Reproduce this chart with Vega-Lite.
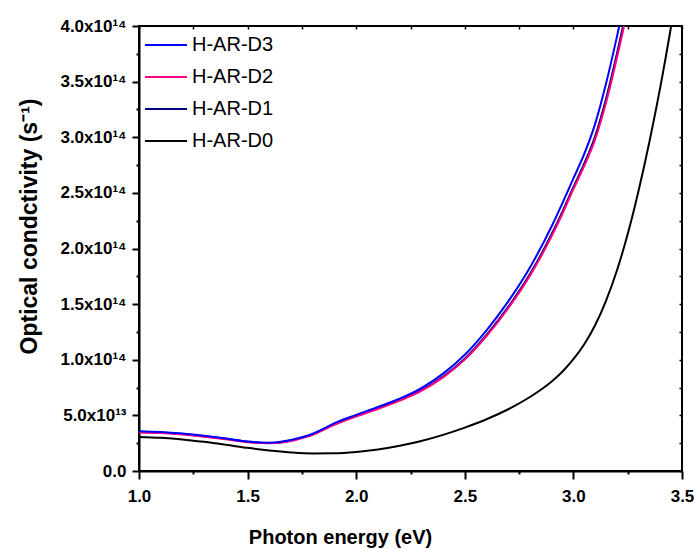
{
  "$schema": "https://vega.github.io/schema/vega-lite/v6.json",
  "autosize": "none",
  "width": 543,
  "height": 445,
  "padding": {"left": 139, "top": 26, "right": 12, "bottom": 78},
  "background": "white",
  "config": {"view": {"stroke": "black", "strokeWidth": 2}, "font": "Liberation Sans"},
  "datasets": {
    "curves": [
      {"s": "H-AR-D0", "E": 1.0, "v": 0.306}, {"s": "H-AR-D0", "E": 1.1, "v": 0.298}, {"s": "H-AR-D0", "E": 1.2, "v": 0.284}, {"s": "H-AR-D0", "E": 1.3, "v": 0.262}, {"s": "H-AR-D0", "E": 1.4, "v": 0.236}, {"s": "H-AR-D0", "E": 1.5, "v": 0.208}, {"s": "H-AR-D0", "E": 1.6, "v": 0.184}, {"s": "H-AR-D0", "E": 1.7, "v": 0.167}, {"s": "H-AR-D0", "E": 1.8, "v": 0.158}, {"s": "H-AR-D0", "E": 1.9, "v": 0.159}, {"s": "H-AR-D0", "E": 2.0, "v": 0.171}, {"s": "H-AR-D0", "E": 2.1, "v": 0.193}, {"s": "H-AR-D0", "E": 2.2, "v": 0.227}, {"s": "H-AR-D0", "E": 2.3, "v": 0.27}, {"s": "H-AR-D0", "E": 2.4, "v": 0.325}, {"s": "H-AR-D0", "E": 2.5, "v": 0.39}, {"s": "H-AR-D0", "E": 2.6, "v": 0.465}, {"s": "H-AR-D0", "E": 2.7, "v": 0.555}, {"s": "H-AR-D0", "E": 2.8, "v": 0.665}, {"s": "H-AR-D0", "E": 2.85, "v": 0.73}, {"s": "H-AR-D0", "E": 2.9, "v": 0.805}, {"s": "H-AR-D0", "E": 2.95, "v": 0.895}, {"s": "H-AR-D0", "E": 3.0, "v": 1.005}, {"s": "H-AR-D0", "E": 3.05, "v": 1.14}, {"s": "H-AR-D0", "E": 3.1, "v": 1.31}, {"s": "H-AR-D0", "E": 3.15, "v": 1.53}, {"s": "H-AR-D0", "E": 3.2, "v": 1.8}, {"s": "H-AR-D0", "E": 3.25, "v": 2.13}, {"s": "H-AR-D0", "E": 3.3, "v": 2.52}, {"s": "H-AR-D0", "E": 3.35, "v": 2.96}, {"s": "H-AR-D0", "E": 3.4, "v": 3.45}, {"s": "H-AR-D0", "E": 3.45, "v": 4.0}, {"s": "H-AR-D0", "E": 3.5, "v": 4.6},
      {"s": "H-AR-D1", "E": 1.0, "v": 0.352}, {"s": "H-AR-D1", "E": 1.1, "v": 0.346}, {"s": "H-AR-D1", "E": 1.2, "v": 0.332}, {"s": "H-AR-D1", "E": 1.3, "v": 0.312}, {"s": "H-AR-D1", "E": 1.4, "v": 0.289}, {"s": "H-AR-D1", "E": 1.5, "v": 0.262}, {"s": "H-AR-D1", "E": 1.6, "v": 0.252}, {"s": "H-AR-D1", "E": 1.7, "v": 0.275}, {"s": "H-AR-D1", "E": 1.75, "v": 0.3}, {"s": "H-AR-D1", "E": 1.8, "v": 0.331}, {"s": "H-AR-D1", "E": 1.85, "v": 0.376}, {"s": "H-AR-D1", "E": 1.9, "v": 0.424}, {"s": "H-AR-D1", "E": 2.0, "v": 0.5}, {"s": "H-AR-D1", "E": 2.1, "v": 0.567}, {"s": "H-AR-D1", "E": 2.2, "v": 0.64}, {"s": "H-AR-D1", "E": 2.3, "v": 0.726}, {"s": "H-AR-D1", "E": 2.4, "v": 0.849}, {"s": "H-AR-D1", "E": 2.5, "v": 1.01}, {"s": "H-AR-D1", "E": 2.6, "v": 1.223}, {"s": "H-AR-D1", "E": 2.7, "v": 1.475}, {"s": "H-AR-D1", "E": 2.8, "v": 1.77}, {"s": "H-AR-D1", "E": 2.9, "v": 2.13}, {"s": "H-AR-D1", "E": 2.95, "v": 2.334}, {"s": "H-AR-D1", "E": 3.0, "v": 2.552}, {"s": "H-AR-D1", "E": 3.05, "v": 2.764}, {"s": "H-AR-D1", "E": 3.1, "v": 3.009}, {"s": "H-AR-D1", "E": 3.15, "v": 3.344}, {"s": "H-AR-D1", "E": 3.2, "v": 3.748}, {"s": "H-AR-D1", "E": 3.25, "v": 4.19},
      {"s": "H-AR-D2", "E": 1.0, "v": 0.347}, {"s": "H-AR-D2", "E": 1.1, "v": 0.341}, {"s": "H-AR-D2", "E": 1.2, "v": 0.327}, {"s": "H-AR-D2", "E": 1.3, "v": 0.308}, {"s": "H-AR-D2", "E": 1.4, "v": 0.285}, {"s": "H-AR-D2", "E": 1.5, "v": 0.258}, {"s": "H-AR-D2", "E": 1.6, "v": 0.249}, {"s": "H-AR-D2", "E": 1.7, "v": 0.27}, {"s": "H-AR-D2", "E": 1.75, "v": 0.296}, {"s": "H-AR-D2", "E": 1.8, "v": 0.325}, {"s": "H-AR-D2", "E": 1.85, "v": 0.37}, {"s": "H-AR-D2", "E": 1.9, "v": 0.415}, {"s": "H-AR-D2", "E": 2.0, "v": 0.49}, {"s": "H-AR-D2", "E": 2.1, "v": 0.557}, {"s": "H-AR-D2", "E": 2.2, "v": 0.632}, {"s": "H-AR-D2", "E": 2.3, "v": 0.721}, {"s": "H-AR-D2", "E": 2.4, "v": 0.842}, {"s": "H-AR-D2", "E": 2.5, "v": 1.001}, {"s": "H-AR-D2", "E": 2.6, "v": 1.212}, {"s": "H-AR-D2", "E": 2.7, "v": 1.463}, {"s": "H-AR-D2", "E": 2.8, "v": 1.755}, {"s": "H-AR-D2", "E": 2.9, "v": 2.112}, {"s": "H-AR-D2", "E": 2.95, "v": 2.315}, {"s": "H-AR-D2", "E": 3.0, "v": 2.533}, {"s": "H-AR-D2", "E": 3.05, "v": 2.742}, {"s": "H-AR-D2", "E": 3.1, "v": 2.981}, {"s": "H-AR-D2", "E": 3.15, "v": 3.31}, {"s": "H-AR-D2", "E": 3.2, "v": 3.71}, {"s": "H-AR-D2", "E": 3.25, "v": 4.15},
      {"s": "H-AR-D3", "E": 1.0, "v": 0.357}, {"s": "H-AR-D3", "E": 1.1, "v": 0.35}, {"s": "H-AR-D3", "E": 1.2, "v": 0.336}, {"s": "H-AR-D3", "E": 1.3, "v": 0.316}, {"s": "H-AR-D3", "E": 1.4, "v": 0.292}, {"s": "H-AR-D3", "E": 1.5, "v": 0.265}, {"s": "H-AR-D3", "E": 1.6, "v": 0.255}, {"s": "H-AR-D3", "E": 1.7, "v": 0.278}, {"s": "H-AR-D3", "E": 1.75, "v": 0.303}, {"s": "H-AR-D3", "E": 1.8, "v": 0.335}, {"s": "H-AR-D3", "E": 1.85, "v": 0.38}, {"s": "H-AR-D3", "E": 1.9, "v": 0.43}, {"s": "H-AR-D3", "E": 2.0, "v": 0.505}, {"s": "H-AR-D3", "E": 2.1, "v": 0.575}, {"s": "H-AR-D3", "E": 2.2, "v": 0.65}, {"s": "H-AR-D3", "E": 2.3, "v": 0.745}, {"s": "H-AR-D3", "E": 2.4, "v": 0.875}, {"s": "H-AR-D3", "E": 2.5, "v": 1.045}, {"s": "H-AR-D3", "E": 2.6, "v": 1.265}, {"s": "H-AR-D3", "E": 2.7, "v": 1.525}, {"s": "H-AR-D3", "E": 2.8, "v": 1.83}, {"s": "H-AR-D3", "E": 2.9, "v": 2.2}, {"s": "H-AR-D3", "E": 2.95, "v": 2.41}, {"s": "H-AR-D3", "E": 3.0, "v": 2.63}, {"s": "H-AR-D3", "E": 3.05, "v": 2.85}, {"s": "H-AR-D3", "E": 3.1, "v": 3.12}, {"s": "H-AR-D3", "E": 3.15, "v": 3.48}, {"s": "H-AR-D3", "E": 3.2, "v": 3.9}, {"s": "H-AR-D3", "E": 3.25, "v": 4.35}
    ]
  },
  "data": {"name": "curves"},
  "layer": [
    {
      "mark": {"type": "line", "strokeWidth": 2, "clip": true, "interpolate": "monotone"},
      "encoding": {
        "x": {
          "field": "E", "type": "quantitative",
          "scale": {"domain": [1, 3.5], "nice": false, "zero": false},
          "axis": {
            "orient": "bottom",
            "values": [1, 1.25, 1.5, 1.75, 2, 2.25, 2.5, 2.75, 3, 3.25, 3.5],
            "labelExpr": "round(datum.value*4)%2!=0 ? '' : format(datum.value,'.1f')",
            "labelFontSize": 17, "labelFontWeight": "bold", "labelColor": "black",
            "labelPadding": 9, "labelOverlap": false, "labelFlush": false,
            "tickColor": "black", "tickWidth": 2,
            "tickSize": {"condition": {"test": "round(datum.value*4)%2==0", "value": 8}, "value": 3},
            "domainColor": "black", "domainWidth": 2, "grid": false,
            "title": "Photon energy (eV)", "titleFontSize": 20, "titleFontWeight": "bold", "titleColor": "black",
            "titleX": 201, "titleY": 66, "titleBaseline": "middle", "titleAlign": "center"
          }
        },
        "y": {
          "field": "v", "type": "quantitative",
          "scale": {"domain": [0, 4], "nice": false},
          "axis": {
            "orient": "left",
            "values": [0, 0.25, 0.5, 0.75, 1, 1.25, 1.5, 1.75, 2, 2.25, 2.5, 2.75, 3, 3.25, 3.5, 3.75, 4],
            "labelExpr": "round(datum.value*4)%2!=0 ? '' : datum.value==0 ? '0.0' : datum.value<1 ? format(datum.value*10,'.1f')+'x10¹³' : format(datum.value,'.1f')+'x10¹⁴'",
            "labelFontSize": 17, "labelFontWeight": "bold", "labelColor": "black",
            "labelPadding": 6, "labelOverlap": false, "labelFlush": false,
            "tickColor": "black", "tickWidth": 2,
            "tickSize": {"condition": {"test": "round(datum.value*4)%2==0", "value": 7}, "value": 3},
            "domainColor": "black", "domainWidth": 2, "grid": false,
            "title": "Optical condctivity (s⁻¹)", "titleFontSize": 23, "titleFontWeight": "bold", "titleColor": "black",
            "titleX": -110, "titleY": 200, "titleBaseline": "middle", "titleAlign": "center", "titleAngle": -90
          }
        },
        "color": {
          "field": "s", "type": "nominal",
          "scale": {"domain": ["H-AR-D3", "H-AR-D2", "H-AR-D1", "H-AR-D0"], "range": ["#0000FF", "#FF0080", "#000080", "#000000"]},
          "legend": {
            "orient": "none", "legendX": 5, "legendY": -3, "title": null, "padding": 0,
            "symbolType": "stroke", "symbolSize": 1764, "symbolStrokeWidth": 2,
            "labelFontSize": 20, "labelColor": "black", "labelOffset": 4, "rowPadding": -16
          }
        }
      }
    },
    {
      "mark": {"type": "point", "opacity": 0},
      "encoding": {
        "x": {
          "field": "E", "type": "quantitative",
          "axis": {"orient": "top", "values": [1, 1.25, 1.5, 1.75, 2, 2.25, 2.5, 2.75, 3, 3.25, 3.5], "labels": false, "title": null, "domain": false, "grid": false, "tickColor": "black", "tickWidth": 1.5, "tickSize": -3}
        },
        "y": {
          "field": "v", "type": "quantitative",
          "axis": {"orient": "right", "values": [0, 0.25, 0.5, 0.75, 1, 1.25, 1.5, 1.75, 2, 2.25, 2.5, 2.75, 3, 3.25, 3.5, 3.75, 4], "labels": false, "title": null, "domain": false, "grid": false, "tickColor": "black", "tickWidth": 1.5, "tickSize": -3}
        }
      }
    }
  ],
  "resolve": {"axis": {"x": "independent", "y": "independent"}}
}
